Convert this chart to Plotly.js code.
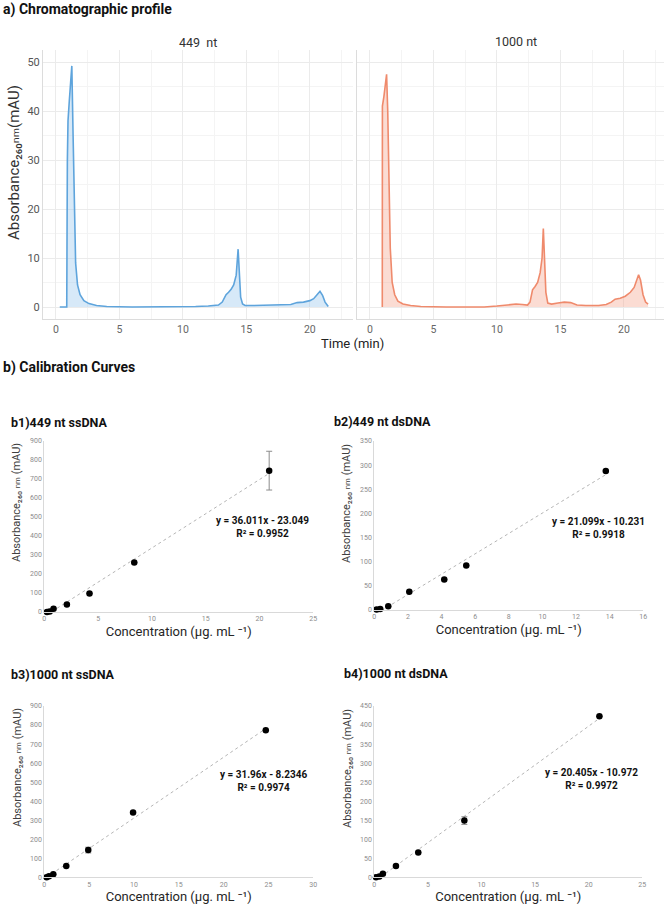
<!DOCTYPE html>
<html>
<head>
<meta charset="utf-8">
<script src="https://cdn.plot.ly/plotly-3.0.1.min.js"></script>
<style>
  body { margin: 0; background: #fff; }
  #chart { width: 664px; height: 909px; }
</style>
</head>
<body>
<div id="chart"></div>
<script>
// a) chromatographic profiles (time in min, absorbance in mAU)
var time449 = [0.3, 0.85, 0.9, 0.95, 1.05, 1.15, 1.25, 1.35, 1.45, 1.55, 1.7, 1.9, 2.2, 2.6, 3.2, 4, 6, 8, 10, 11, 12,
  12.8, 13.1, 13.4, 13.6, 13.8, 14.0, 14.2, 14.35, 14.45, 14.55, 14.7, 14.9, 15.5, 16.5, 17.5, 18, 18.5, 19, 19.5,
  20, 20.3, 20.6, 20.8, 21.0, 21.2, 21.45];
var abs449 = [0, 0, 30, 38, 42, 47, 49.2, 35, 18, 9, 4.5, 2.5, 1.3, 0.7, 0.3, 0.1, 0, 0, 0, 0.1, 0.2,
  0.4, 1.0, 2.5, 3.0, 3.6, 4.5, 6.5, 11.8, 8, 2, 0.6, 0.3, 0.3, 0.4, 0.5, 0.6, 0.5, 0.9, 1.0,
  1.3, 1.7, 2.6, 3.2, 2.4, 1.0, 0.1];

var time1000 = [0.97, 0.98, 1.1, 1.2, 1.31, 1.4, 1.5, 1.6, 1.75, 1.95, 2.2, 2.6, 3.2, 4, 6, 8, 9, 10, 11, 11.5, 12,
  12.4, 12.6, 12.8, 13.0, 13.2, 13.4, 13.55, 13.65, 13.75, 13.85, 14.0, 14.3, 14.8, 15.3, 15.8, 16.3, 17, 18, 18.6,
  19, 19.3, 19.7, 20.1, 20.5, 20.8, 21.0, 21.15, 21.3, 21.5, 21.7, 21.9];
var abs1000 = [0, 41, 43, 45.5, 47.5, 40, 25, 12, 5, 2.5, 1.2, 0.6, 0.3, 0.1, 0, 0, 0, 0.2, 0.4, 0.6, 0.5,
  0.4, 1.0, 3.5, 4.2, 5, 7, 10, 16, 9, 3, 0.8, 0.6, 0.8, 1.0, 0.9, 0.4, 0.3, 0.3, 0.5,
  1.0, 1.6, 1.8, 2.2, 3.0, 4.0, 5.5, 6.6, 5.5, 2.5, 1.0, 0.6];

var timeTicks = [0, 5, 10, 15, 20];
var facetLabels = ['449  nt', '1000 nt'];

// b) calibration points (concentration in ug/mL, absorbance in mAU)
var conc449ss = [0.25, 0.5, 0.86, 2.1, 4.2, 8.36, 20.9];
var abs449ss = [0, 3, 17, 40, 98, 260, 744];
var err449ss = [0, 0, 0, 0, 0, 0, 102];

var conc449ds = [0.14, 0.35, 0.83, 2.08, 4.16, 5.47, 13.77];
var abs449ds = [1, 2, 8, 38, 63, 92, 288];
var err449ds = [0, 0, 0, 0, 0, 0, 0];

var conc1000ss = [0.26, 0.52, 1.0, 2.45, 4.9, 9.9, 24.7];
var abs1000ss = [0, 5, 16, 59, 143, 340, 772];
var err1000ss = [0, 0, 0, 0, 15, 0, 0];

var conc1000ds = [0.16, 0.47, 0.8, 2.02, 4.1, 8.4, 21.0];
var abs1000ds = [0, 2, 9, 30, 65, 149, 423];
var err1000ds = [0, 0, 0, 0, 0, 10, 0];

// linear fits printed on the chart
var fitSlope = [36.011, 21.099, 31.96, 20.405];
var fitIntercept = [-23.049, -10.231, -8.2346, -10.972];
var fitR2 = ['0.9952', '0.9918', '0.9974', '0.9972'];
var eqPosX = [20.3, 13.35, 24.4, 20.3];
var eqPosY = [450, 170, 505, 258];

var panels = [
  {name: 'b1)449 nt ssDNA', x: conc449ss, y: abs449ss, err: err449ss},
  {name: 'b2)449 nt dsDNA', x: conc449ds, y: abs449ds, err: err449ds},
  {name: 'b3)1000 nt ssDNA', x: conc1000ss, y: abs1000ss, err: err1000ss},
  {name: 'b4)1000 nt dsDNA', x: conc1000ds, y: abs1000ds, err: err1000ds}
];

var W = 664, H = 909;
function px(v) { return v / W; }
function py(v) { return 1 - v / H; }

var data = [];

data.push({
  x: time449, y: abs449, xaxis: 'x', yaxis: 'y', type: 'scatter', mode: 'lines',
  line: {color: '#5ea4dc', width: 1.6}, fill: 'tozeroy', fillcolor: 'rgba(140,192,235,0.35)',
  hoverinfo: 'skip'
});
data.push({
  x: time1000, y: abs1000, xaxis: 'x2', yaxis: 'y2', type: 'scatter', mode: 'lines',
  line: {color: '#ef8a6c', width: 1.6}, fill: 'tozeroy', fillcolor: 'rgba(246,168,145,0.4)',
  hoverinfo: 'skip'
});

panels.forEach(function (p, i) {
  var xa = 'x' + (i + 3), ya = 'y' + (i + 3);
  var xmin = Math.min.apply(null, p.x), xmax = Math.max.apply(null, p.x);
  data.push({
    x: [xmin, xmax],
    y: [fitSlope[i] * xmin + fitIntercept[i], fitSlope[i] * xmax + fitIntercept[i]],
    xaxis: xa, yaxis: ya, type: 'scatter', mode: 'lines',
    line: {color: '#b5b5b5', width: 1, dash: 'dot'}, hoverinfo: 'skip'
  });
  data.push({
    x: p.x, y: p.y, xaxis: xa, yaxis: ya, type: 'scatter', mode: 'markers',
    marker: {color: '#000', size: 6.5},
    error_y: {type: 'data', array: p.err, visible: true, color: '#8c8c8c', thickness: 1, width: 3},
    cliponaxis: false
  });
});

var topX = {
  range: [-1.02, 23.4], tickvals: timeTicks, showgrid: true, gridcolor: '#ebebeb', gridwidth: 1,
  minor: {dtick: 2.5, tick0: 0, showgrid: true, gridcolor: '#f4f4f4', gridwidth: 1},
  showline: true, linecolor: '#dcdcdc', zeroline: false, ticks: '',
  tickfont: {size: 10.5, color: '#666'}
};
var topY = {
  range: [-2.45, 52.45], dtick: 10, showgrid: true, gridcolor: '#ebebeb',
  minor: {dtick: 5, showgrid: true, gridcolor: '#f4f4f4'},
  showline: true, linecolor: '#dcdcdc', zeroline: false, ticks: '',
  domain: [py(319), py(50)]
};

function calX(dom, max, step) {
  return {
    domain: dom, range: [0, max], dtick: step, showgrid: false, zeroline: false,
    showline: true, linecolor: '#d9d9d9', ticks: '',
    tickfont: {size: 7, color: '#8c8c8c'},
    title: {text: 'Concentration (µg. mL ⁻¹)', font: {size: 13, color: '#262626'}, standoff: 4}
  };
}
function calY(dom, max, step) {
  return {
    domain: dom, range: [0, max], dtick: step, showgrid: false, zeroline: false,
    showline: true, linecolor: '#d9d9d9', ticks: '',
    tickfont: {size: 7, color: '#8c8c8c'}
  };
}

var leftDom = [px(44.3), px(313.3)];
var rowTop = [py(612), py(441)];
var rowBot = [py(877.3), py(706)];

var layout = {
  width: W, height: H,
  margin: {l: 0, r: 0, t: 0, b: 0},
  paper_bgcolor: '#fff', plot_bgcolor: '#fff',
  showlegend: false,
  font: {family: 'Roboto, "DejaVu Sans", sans-serif', color: '#222'},
  xaxis: Object.assign({}, topX, {domain: [px(43), px(353)], anchor: 'y'}),
  yaxis: Object.assign({}, topY, {anchor: 'x', tickfont: {size: 11, color: '#555'}}),
  xaxis2: Object.assign({}, topX, {domain: [px(357), 1], range: [-1.02, 23.15], anchor: 'y2'}),
  yaxis2: Object.assign({}, topY, {anchor: 'x2', showticklabels: false}),
  xaxis3: Object.assign(calX(leftDom, 25, 5), {anchor: 'y3'}),
  yaxis3: Object.assign(calY(rowTop, 900, 100), {anchor: 'x3'}),
  xaxis4: Object.assign(calX([px(374.3), px(643.3)], 16, 2), {anchor: 'y4'}),
  yaxis4: Object.assign(calY([py(610), py(441)], 350, 50), {anchor: 'x4'}),
  xaxis5: Object.assign(calX(leftDom, 30, 5), {anchor: 'y5'}),
  yaxis5: Object.assign(calY(rowBot, 900, 100), {anchor: 'x5'}),
  xaxis6: Object.assign(calX([px(374.3), px(642.3)], 25, 5), {anchor: 'y6'}),
  yaxis6: Object.assign(calY(rowBot, 450, 50), {anchor: 'x6'}),
  annotations: []
};

function paperText(text, x, y, opts) {
  return Object.assign({
    text: text, xref: 'paper', yref: 'paper', x: px(x), y: py(y),
    xanchor: 'left', yanchor: 'middle', showarrow: false
  }, opts || {});
}

var ann = layout.annotations;
var headFont = {size: 14, color: '#111', weight: 'bold'};
ann.push(paperText('a) Chromatographic profile', 1, 9, {font: headFont}));
ann.push(paperText(facetLabels[0], 198, 42, {xanchor: 'center', font: {size: 12.5, color: '#333'}}));
ann.push(paperText(facetLabels[1], 516, 41, {xanchor: 'center', font: {size: 12.5, color: '#333'}}));
ann.push(paperText('Time (min)', 353, 343, {xanchor: 'center', font: {size: 13, color: '#222'}}));
ann.push(paperText('Absorbance₂₆₀ₙₘ(mAU)', 14, 163,
  {xanchor: 'center', textangle: -90, font: {size: 15, color: '#333'}}));
ann.push(paperText('b) Calibration Curves', 1, 368, {font: headFont}));

var titlePos = [[9, 422], [332, 421], [9, 674], [342, 673]];
var yTitlePos = [[17, 503], [347, 503], [17, 768], [347, 768]];
panels.forEach(function (p, i) {
  ann.push(paperText(p.name, titlePos[i][0], titlePos[i][1], {font: {size: 12.5, color: '#111', weight: 'bold'}}));
  ann.push(paperText('Absorbance₂₆₀ ₙₘ (mAU)', yTitlePos[i][0], yTitlePos[i][1],
    {xanchor: 'center', textangle: -90, font: {size: 11, color: '#404040'}}));
  var sign = fitIntercept[i] < 0 ? ' - ' : ' + ';
  ann.push({
    text: 'y = ' + fitSlope[i] + 'x' + sign + Math.abs(fitIntercept[i]) + '<br>R² = ' + fitR2[i],
    xref: 'x' + (i + 3), yref: 'y' + (i + 3), x: eqPosX[i], y: eqPosY[i],
    xanchor: 'center', yanchor: 'middle', showarrow: false, align: 'center',
    bgcolor: '#fff', font: {size: 10, color: '#111', weight: 'bold'}
  });
});

Plotly.newPlot('chart', data, layout, {displayModeBar: false});
</script>
</body>
</html>
